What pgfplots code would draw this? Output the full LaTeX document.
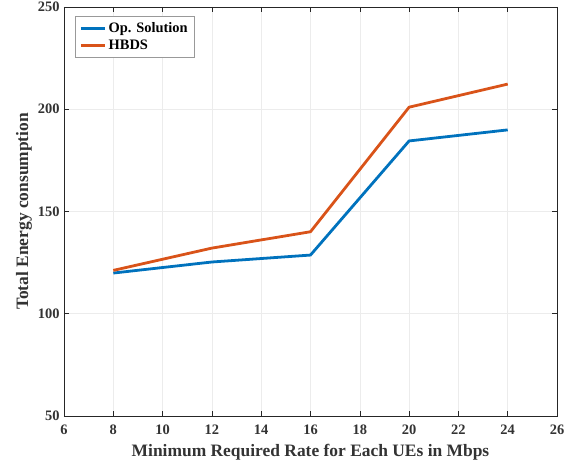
\documentclass[border=0pt]{standalone}
\usepackage{pgfplots}
\pgfplotsset{compat=1.18}
\usepackage{fontspec}
\setmainfont{Liberation Serif}
\definecolor{mblue}{rgb}{0,0.447,0.741}
\definecolor{mred}{rgb}{0.85,0.325,0.098}
\begin{document}
\begin{tikzpicture}[x=1bp,y=1bp]
\useasboundingbox (-64,-52) rectangle (511,416);
\begin{axis}[
  at={(0,0)}, anchor=south west,
  width=493bp, height=409bp, scale only axis,
  xmin=6, xmax=26, ymin=50, ymax=250,
  xtick={6,8,...,26}, ytick={50,100,...,250},
  tick align=inside, tick pos=both,
  major tick length=5bp,
  grid=major, grid style={gray!15, line width=0.5pt},
  axis line style={line width=0.8pt, black!85},
  every tick/.style={black!85, line width=0.6pt},
  /pgf/number format/assume math mode=true,
  tick label style={font=\fontsize{14.5}{14.5}\selectfont\bfseries, text=black!80},
  xticklabel style={yshift=-5bp},
  yticklabel style={xshift=-1bp},
  xlabel={Minimum Required Rate for Each UEs in Mbps},
  ylabel={Total Energy consumption},
  label style={font=\fontsize{17.5}{17.5}\selectfont\bfseries, text=black!80},
  xlabel style={yshift=-3bp},
  ylabel style={yshift=-1bp},
  legend style={at={(0.022,0.977)}, anchor=north west, draw=black!40, line width=0.5pt,
    font=\fontsize{14.5}{15}\selectfont\bfseries, inner sep=4bp, row sep=2bp},
  legend cell align=left,
  legend image code/.code={\draw[#1, line width=3.5pt] (0cm,0cm) -- (0.85cm,0cm);},
]
\addplot[mblue, line width=2.8pt] coordinates {(8,119.9) (12,125.3) (16,128.7) (20,184.5) (24,189.9)};
\addlegendentry{Op. Solution}
\addplot[mred, line width=2.8pt] coordinates {(8,121.2) (12,132.1) (16,140.1) (20,201.0) (24,212.3)};
\addlegendentry{HBDS}
\end{axis}
\end{tikzpicture}
\end{document}
